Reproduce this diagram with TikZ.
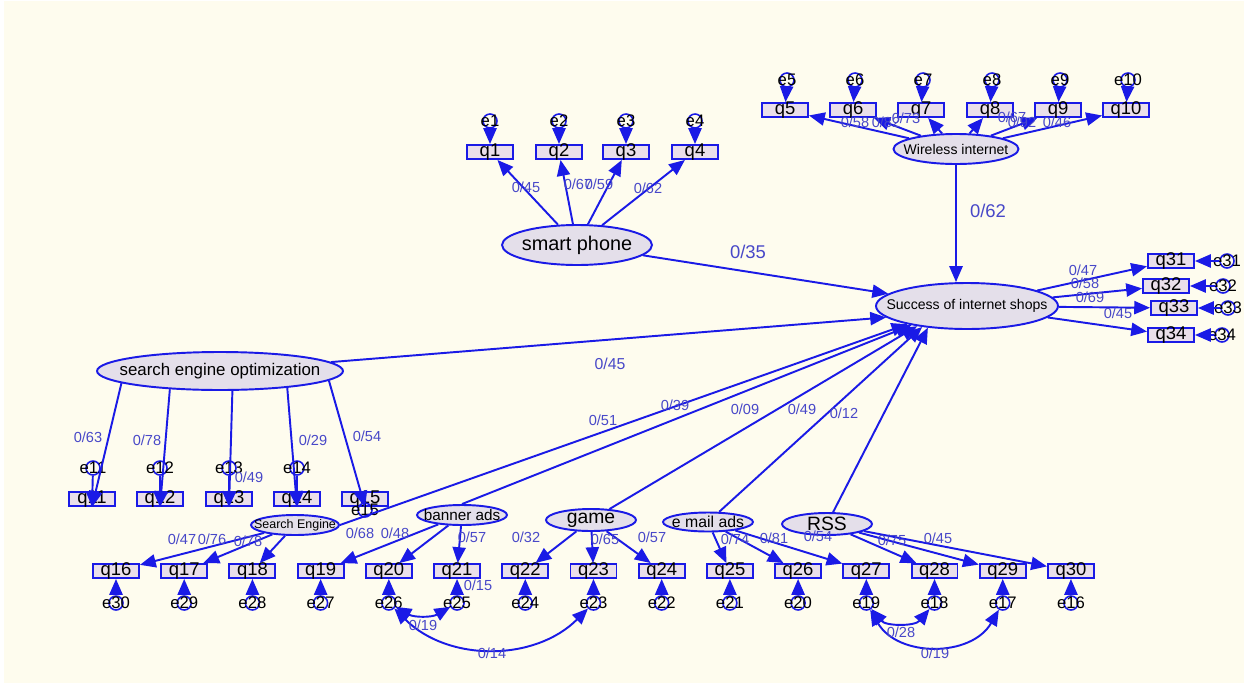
\documentclass[tikz,border=0pt]{standalone}
\usepackage{fontspec}
\setmainfont{Liberation Sans}
\usetikzlibrary{arrows.meta,shapes.geometric}
\definecolor{LineBlue}{HTML}{1A1AE6}
\definecolor{WeightBlue}{HTML}{4848C8}
\definecolor{BoxFill}{HTML}{EADFEA}
\definecolor{LatFill}{HTML}{E4DFEA}
\definecolor{Cream}{HTML}{FEFCEE}
\newcommand{\fsz}[1]{\fontsize{#1}{#1}\selectfont}

\tikzset{
  obs/.style={rectangle, draw=LineBlue, line width=1.1pt, fill=BoxFill,
    minimum width=0.92cm, minimum height=0.28cm, inner sep=0pt,
    text height=4.8pt, text depth=0pt, font=\fsz{10.5}},
  lat/.style={ellipse, draw=LineBlue, line width=1.1pt, fill=LatFill, inner sep=0pt},
  errc/.style={circle, draw=LineBlue, line width=0.9pt, minimum size=0.28cm,
    inner sep=0pt, label={[font=\fsz{9.5}, inner sep=0pt]center:#1}},
  arr/.style={draw=LineBlue, line width=1.1pt, -{Triangle[length=9pt,width=7.5pt]}},
  cov/.style={draw=LineBlue, line width=1.1pt,
    {Triangle[length=9pt,width=7.5pt]}-{Triangle[length=9pt,width=7.5pt]}},
  wt/.style={text=WeightBlue, font=\fsz{8.3}, inner sep=0pt},
  wtbig/.style={text=WeightBlue, font=\fsz{10.5}, inner sep=0pt}
}

\begin{document}
\begin{tikzpicture}[x=0.02cm, y=-0.02cm]
  % canvas
  \fill[white] (0,0) rectangle (1244,683);
  \fill[Cream] (4,1) rectangle (1244,683);
  \useasboundingbox (0,0) rectangle (1244,683);

  % latent variables
  \node[lat, minimum width=3cm, minimum height=0.8cm,
    label={[font=\fsz{11.3}]center:smart phone}] (sp) at (577,245) {};
  \node[lat, minimum width=2.5cm, minimum height=0.6cm,
    label={[font=\fsz{8}]center:Wireless internet}] (wi) at (956,149) {};
  \node[lat, minimum width=3.64cm, minimum height=0.92cm,
    label={[font=\fsz{8}]center:Success of internet shops}] (sucs) at (967,306) {};
  \node[lat, minimum width=4.92cm, minimum height=0.76cm,
    label={[font=\fsz{9.6}]center:search engine optimization}] (seo) at (220,371) {};
  \node[lat, minimum width=1.76cm, minimum height=0.4cm,
    label={[font=\fsz{7.1}]center:Search Engine}] (se) at (295,525) {};
  \node[lat, minimum width=1.8cm, minimum height=0.4cm,
    label={[font=\fsz{8.7}]center:banner ads}] (bann) at (462,515) {};
  \node[lat, minimum width=1.8cm, minimum height=0.44cm,
    label={[font=\fsz{11}]center:game}] (game) at (591,520) {};
  \node[lat, minimum width=1.8cm, minimum height=0.38cm,
    label={[font=\fsz{9}]center:e mail ads}] (email) at (708,522) {};
  \node[lat, minimum width=1.8cm, minimum height=0.44cm,
    label={[font=\fsz{11}]center:RSS}] (rss) at (827,524) {};

  % indicators and their errors
  \foreach \i/\x in {1/490,2/559,3/626,4/695} {
    \node[obs] (q\i) at (\x,152) {q\i};
    \node[errc=e\i] (e\i) at (\x,121) {};
  }
  \foreach \i/\x in {5/785,6/853,7/921,8/990,9/1058,10/1126} {
    \node[obs] (q\i) at (\x,110) {q\i};
    \node[errc=e\i] (e\i) at (\x+2,80) {};
  }
  \foreach \i/\x in {11/92,12/160,13/229,14/297,15/365}
    \node[obs] (q\i) at (\x,499) {q\i};
  \foreach \i/\x in {11/93,12/160,13/229,14/297}
    \node[errc=e\i] (e\i) at (\x,468) {};
  \node[errc=e15] (e15) at (365,510) {};
  \foreach \i [evaluate=\i as \x using {116+68.21*(\i-16)},
               evaluate=\i as \e using {int(46-\i)}] in {16,...,30} {
    \node[obs] (q\i) at (\x,571) {q\i};
    \node[errc=e\e] (e\e) at (\x,603) {};
  }
  \foreach \i/\x/\y in {31/1171/261,32/1166/286,33/1174/308,34/1171/335}
    \node[obs] (q\i) at (\x,\y) {q\i};
  \foreach \i/\x/\y in {31/1227/261,32/1223/286,33/1228/308,34/1222/335}
    \node[errc=e\i] (e\i) at (\x,\y) {};

  % loadings
  \foreach \i in {1,...,4} \draw[arr] (sp) -- (q\i);
  \foreach \i in {5,...,10} \draw[arr] (wi) -- (q\i);
  \foreach \i/\a in {11/187,12/200,13/302,14/346,15/355}
    \draw[arr] (seo.\a) -- (q\i.south);
  \foreach \i in {16,17,18} \draw[arr] (se) -- (q\i);
  \foreach \i in {19,20,21} \draw[arr] (bann) -- (q\i);
  \foreach \i in {22,23,24} \draw[arr] (game) -- (q\i);
  \foreach \i in {25,26,27} \draw[arr] (email) -- (q\i);
  \foreach \i in {28,29,30} \draw[arr] (rss) -- (q\i);
  \foreach \i in {31,...,34} \draw[arr] (sucs) -- (q\i);

  % errors
  \foreach \i in {1,...,10} \draw[arr] (e\i) -- (q\i);
  \foreach \i in {11,...,14} \draw[arr] (e\i) -- (q\i.south);
  \foreach \i [evaluate=\i as \e using {int(46-\i)}] in {16,...,30}
    \draw[arr] (e\e) -- (q\i);
  \foreach \i in {31,...,34} \draw[arr] (e\i) -- (q\i);

  % paths to success
  \draw[arr] (sp) -- (sucs);
  \draw[arr] (wi) -- (wi |- sucs.north);
  \draw[arr] (seo) -- (sucs.188);
  \draw[arr] (se.east) -- (sucs.197);
  \draw[arr] (bann.north) -- (sucs.199);
  \draw[arr] (game) -- (sucs.202);
  \draw[arr] (email) -- (sucs.205);
  \draw[arr] (rss) -- (sucs.209);

  % covariances
  \draw[cov] (e26) to[out=-30, in=-150] (e25);
  \draw[cov] (e26) to[out=-45, in=-135] (e23);
  \draw[cov] (e19) to[out=-50, in=-130] (e18);
  \draw[cov] (e19) to[out=-60, in=-120, looseness=1.1] (e17);

  % weights
  \foreach \v/\x/\y [count=\k] in {45/526/187,67/578/184,59/599/184,62/648/188,
      58/855/122,82/886/122,73/906/118,67/1012/117,92/1022/122,46/1057/122,
      47/1083/270,58/1085/283,69/1090/297,45/1118/313,
      63/88/437,78/147/440,49/249/477,29/313/440,54/367/436,
      51/603/420,39/675/405,09/745/409,49/802/409,12/844/413,
      47/182/539,76/212/539,78/248/541,68/360/533,48/395/533,57/472/537,
      32/526/537,65/605/539,57/652/537,74/735/539,81/774/538,54/818/536,
      75/892/540,45/938/538,
      15/478/585,19/423/625,14/492/653,28/901/632,19/935/653}
    \node[wt] (w\k) at (\x,\y) {0/\v};
  \node[wtbig] (wwi) at (988,211) {0/62};
  \node[wtbig] (wsp) at (748,252) {0/35};
  \node[wt, font=\fsz{9}] (wseo) at (610,364) {0/45};
\end{tikzpicture}
\end{document}
